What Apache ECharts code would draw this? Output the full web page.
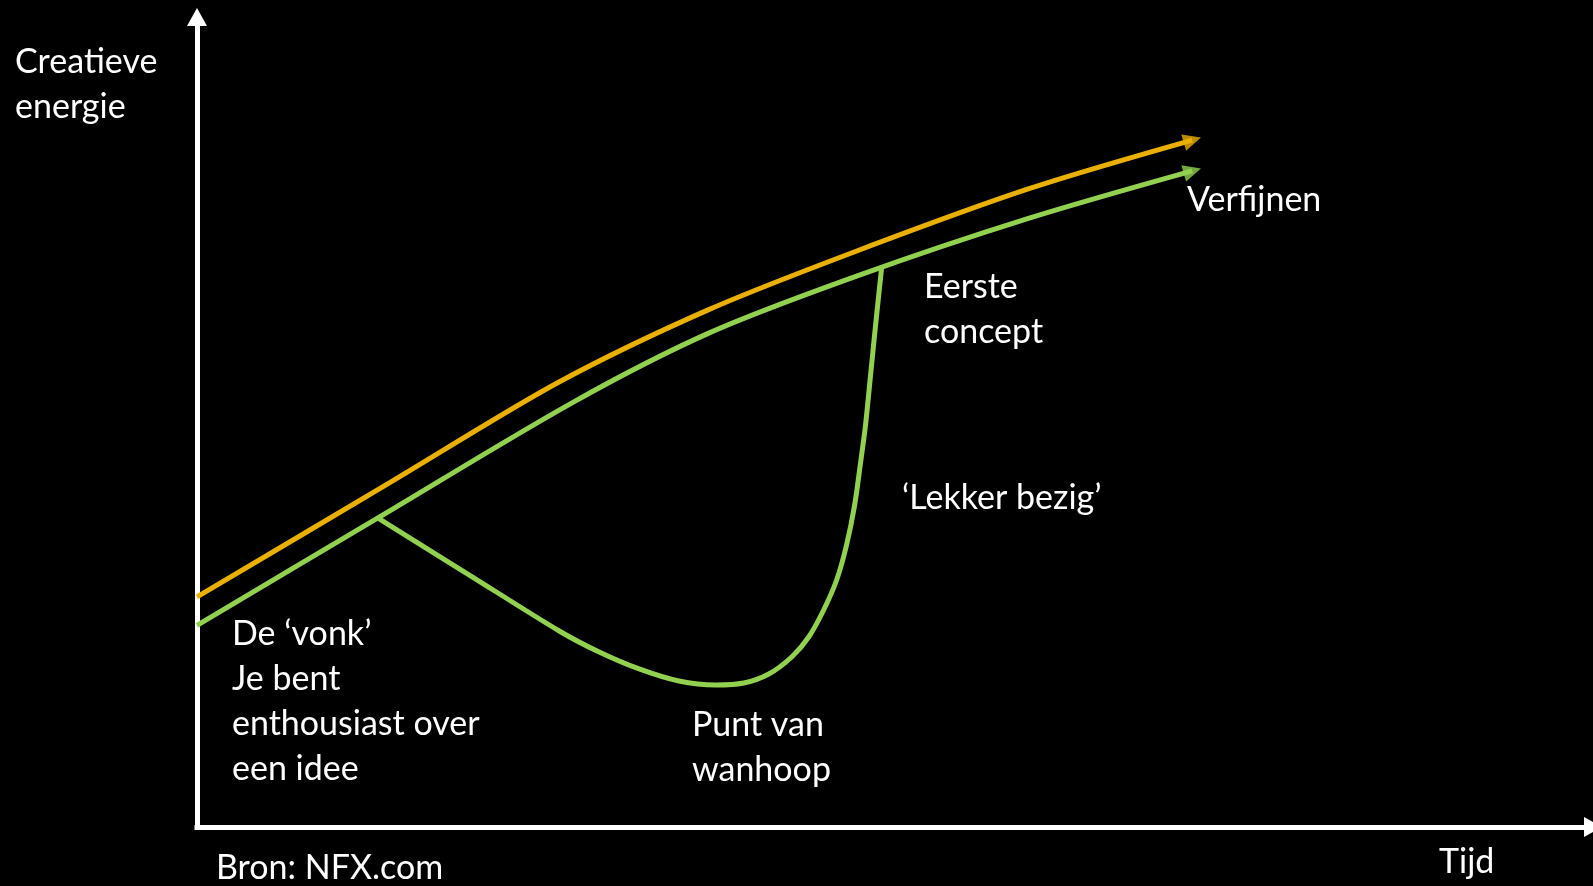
<!DOCTYPE html>
<html>
<head>
<meta charset="utf-8">
<script src="https://cdn.jsdelivr.net/npm/echarts@6/dist/echarts.min.js"></script>
<style>
html,body{margin:0;padding:0;background:#000;}
#chart{width:1593px;height:886px;}
</style>
</head>
<body>
<div id="chart"></div>
<script>
// Upper (orange) curve: time vs creative energy
const orangeX = [0, 13.9, 25.9, 36.7, 47.4, 59.6, 71.3];
const orangeY = [28.4, 42.6, 54.9, 63.9, 71.2, 78.8, 84.8];
// Lower (green) main curve
const greenX = [0, 12.9, 26.9, 36.7, 47.4, 59.5, 71.3];
const greenY = [24.9, 38.1, 52.4, 61.0, 68.1, 75.1, 81.0];
// Green dip branch (Punt van wanhoop -> Lekker bezig -> Eerste concept)
const dipX = [12.94, 19.51, 25.95, 28.81, 31.67, 34.52, 37.17, 39.17, 40.96, 42.60, 43.82, 44.89, 45.82, 46.53, 47.11, 47.53, 47.89, 48.25, 48.61, 49.04];
const dipY = [38.15, 31.11, 24.20, 21.60, 19.51, 18.02, 17.53, 17.78, 18.89, 20.99, 23.46, 26.79, 30.49, 34.81, 39.75, 44.94, 49.63, 55.80, 61.98, 69.01];

const yAxisTitle = 'Creatieve\nenergie';
const xAxisTitle = 'Tijd';
const sourceText = 'Bron: NFX.com';
const labelSpark = 'De \u2018vonk\u2019\nJe bent\nenthousiast over\neen idee';
const labelDespair = 'Punt van\nwanhoop';
const labelBusy = '\u2018Lekker bezig\u2019';
const labelConcept = 'Eerste\nconcept';
const labelRefine = 'Verfijnen';

const ORANGE = '#E9B000';
const GREEN = '#92D050';
const FONT = '34px Lato, "Open Sans", sans-serif';

const zip = (xs, ys) => xs.map((x, i) => [x, ys[i]]);

const chart = echarts.init(document.getElementById('chart'));

function txt(text, x, y) {
  return {
    type: 'text', silent: true,
    style: { text: text, x: x, y: y, fill: '#fff', font: FONT, lineHeight: 45, verticalAlign: 'top', textAlign: 'left' }
  };
}

const axisCommon = {
  type: 'value', min: 0, max: 100,
  splitLine: { show: false }, axisLabel: { show: false }, axisTick: { show: false },
  axisLine: { show: true, symbol: ['none', 'triangle'], symbolSize: [20, 18],
    lineStyle: { color: '#fff', width: 5, cap: 'square' } }
};

const option = {
  backgroundColor: '#000',
  animation: false,
  grid: { left: 197, right: -3, top: 17, bottom: 59 },
  xAxis: Object.assign({}, axisCommon),
  yAxis: Object.assign({}, axisCommon),
  series: [
    { type: 'line', data: zip(orangeX, orangeY), smooth: 0.3, symbol: 'none', silent: true,
      lineStyle: { color: ORANGE, width: 5 }, z: 3 },
    { type: 'line', data: zip(greenX, greenY), smooth: 0.3, symbol: 'none', silent: true,
      lineStyle: { color: GREEN, width: 5 }, z: 3 },
    { type: 'line', data: zip(dipX, dipY), smooth: 0.3, symbol: 'none', silent: true,
      lineStyle: { color: GREEN, width: 5, join: 'round' }, z: 3 },
    { type: 'scatter', id: 'arrO', silent: true, symbol: 'triangle', symbolSize: [17, 18],
      itemStyle: { color: ORANGE }, data: [[orangeX[orangeX.length - 1], orangeY[orangeY.length - 1]]], z: 4 },
    { type: 'scatter', id: 'arrG', silent: true, symbol: 'triangle', symbolSize: [17, 18],
      itemStyle: { color: GREEN }, data: [[greenX[greenX.length - 1], greenY[greenY.length - 1]]], z: 4 }
  ],
  graphic: [
    txt(yAxisTitle, 15, 40),
    txt(xAxisTitle, 1439, 840),
    txt(sourceText, 216, 846),
    txt(labelSpark, 232, 612),
    txt(labelDespair, 692, 703),
    txt(labelBusy, 902, 476),
    txt(labelConcept, 924, 265),
    txt(labelRefine, 1187, 178)
  ]
};
chart.setOption(option);

function rotation(xs, ys) {
  const n = xs.length;
  const a = chart.convertToPixel({ gridIndex: 0 }, [xs[n - 2], ys[n - 2]]);
  const b = chart.convertToPixel({ gridIndex: 0 }, [xs[n - 1], ys[n - 1]]);
  return Math.atan2(-(b[1] - a[1]), b[0] - a[0]) * 180 / Math.PI - 90;
}
chart.setOption({
  series: [
    { id: 'arrO', symbolRotate: rotation(orangeX, orangeY) },
    { id: 'arrG', symbolRotate: rotation(greenX, greenY) }
  ]
});
</script>
</body>
</html>
